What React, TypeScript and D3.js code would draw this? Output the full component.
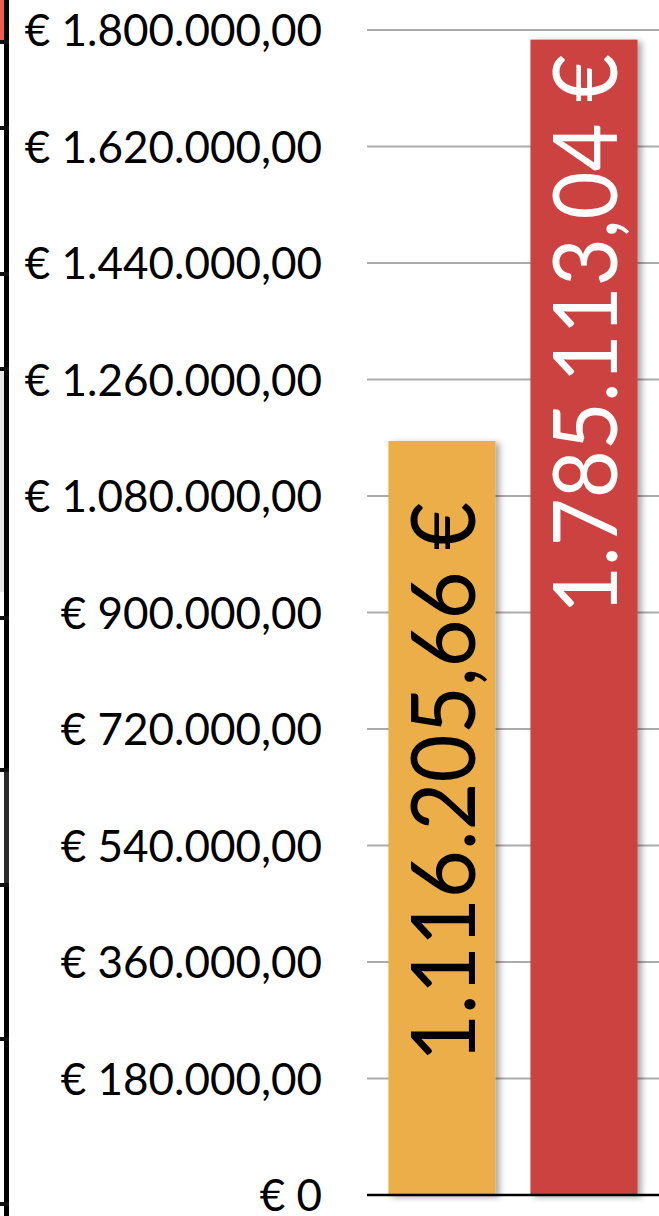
import React from "react";
import * as d3 from "d3";

const categories = ["Serie 1", "Serie 2"];
const barValues = [1165000, 1785113.04];
const barLabels = ["1.116.205,66 €", "1.785.113,04 €"];
const barColors = ["#ECAE4A", "#CB4340"];
const labelColors = ["#000000", "#FFFFFF"];
const tickValues = [0, 180000, 360000, 540000, 720000, 900000, 1080000, 1260000, 1440000, 1620000, 1800000];
const tickLabels = [
  "€ 0",
  "€ 180.000,00",
  "€ 360.000,00",
  "€ 540.000,00",
  "€ 720.000,00",
  "€ 900.000,00",
  "€ 1.080.000,00",
  "€ 1.260.000,00",
  "€ 1.440.000,00",
  "€ 1.620.000,00",
  "€ 1.800.000,00",
];
// cropped neighbouring chart at the left edge: segment boundaries (pixel rows)
const leftEdgeBreaks = [42, 128, 274, 369, 618, 770, 885, 1039, 1204];

const W = 659;
const H = 1216;
const FONT = "Lato, 'Open Sans', sans-serif";

export default function App() {
  const y = d3.scaleLinear().domain([0, 1800000]).range([1195, 30]);
  const x = d3
    .scaleBand<string>()
    .domain(categories)
    .range([367, 659])
    .paddingInner(0.246)
    .paddingOuter(0.151);

  return (
    <svg
      width={W}
      height={H}
      style={{ position: "absolute", left: 0, top: 0, background: "#fff" }}
    >
      <defs>
        <filter id="shadow" x="-20%" y="-5%" width="140%" height="110%">
          <feDropShadow dx="4" dy="2" stdDeviation="3" floodColor="#000" floodOpacity="0.35" />
        </filter>
      </defs>

      {/* left edge fragment */}
      <rect x={0} y={0} width={7} height={leftEdgeBreaks[0]} fill="#F25B4B" />
      <rect x={0} y={leftEdgeBreaks[3] + 2} width={4} height={leftEdgeBreaks[4] - leftEdgeBreaks[3] - 28} fill="#E6E6E6" />
      <rect x={4} y={0} width={5} height={H} fill="#000" />
      <rect x={4} y={leftEdgeBreaks[5]} width={5} height={leftEdgeBreaks[6] - leftEdgeBreaks[5]} fill="#2A2A2A" />
      {leftEdgeBreaks.map((b, i) => (
        <rect key={i} x={0} y={b - 2} width={9} height={4} fill="#111" />
      ))}

      {/* gridlines */}
      {tickValues.slice(1).map((t) => (
        <line key={t} x1={367} x2={W} y1={y(t)} y2={y(t)} stroke="#ABABAB" strokeWidth={2} />
      ))}

      {/* tick labels */}
      {tickValues.map((t, i) => (
        <text
          key={t}
          x={322}
          y={y(t)}
          dy="0.37em"
          textAnchor="end"
          fontFamily={FONT}
          fontSize={44}
          fill="#000"
        >
          {tickLabels[i]}
        </text>
      ))}

      {/* bars */}
      {categories.map((c, i) => (
        <rect
          key={c}
          x={x(c)}
          y={y(barValues[i])}
          width={x.bandwidth()}
          height={y(0) - y(barValues[i])}
          fill={barColors[i]}
          filter="url(#shadow)"
        />
      ))}

      {/* baseline */}
      <line x1={367} x2={W} y1={y(0)} y2={y(0)} stroke="#000" strokeWidth={2.5} />

      {/* bar labels */}
      {categories.map((c, i) => {
        const cx = (x(c) as number) + x.bandwidth() / 2;
        const bottom = i === 0 ? 1062 : 614;
        return (
          <text
            key={c}
            transform={`translate(${cx + 33},${bottom}) rotate(-90)`}
            fontFamily={FONT}
            fontSize={90}
            fill={labelColors[i]}
            textLength={560}
            lengthAdjust="spacingAndGlyphs"
          >
            {barLabels[i]}
          </text>
        );
      })}
    </svg>
  );
}
